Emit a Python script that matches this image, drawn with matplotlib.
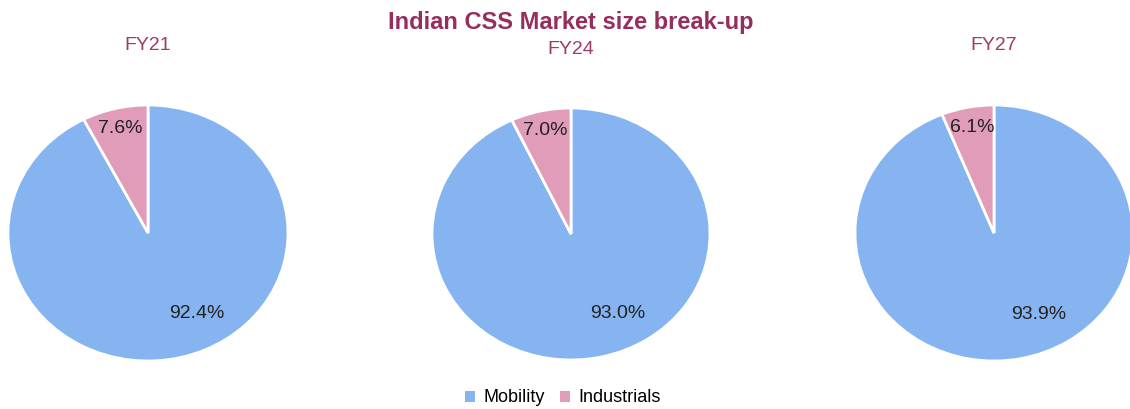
import numpy as np
import matplotlib.pyplot as plt
from matplotlib.patches import Patch

plt.rcParams['font.family'] = ['Liberation Sans', 'DejaVu Sans']

years = ['FY21', 'FY24', 'FY27']
segments = ['Mobility', 'Industrials']
mobility = [92.4, 93.0, 93.9]
industrials = [7.6, 7.0, 6.1]

colors = ['#85b4f1', '#e09cb9']
title_color = '#962d5c'

W, H = 1130, 409
fig = plt.figure(figsize=(W / 100, H / 100), dpi=100)

# pie boxes in pixels: center x, center y, radius x, radius y
boxes = [(148, 233, 140, 128), (571, 234, 139, 126), (994, 233, 139, 128)]
title_y = [45, 49, 45]

for i, year in enumerate(years):
    cx, cy, rx, ry = boxes[i]
    ax = fig.add_axes([(cx - rx) / W, 1 - (cy + ry) / H, 2 * rx / W, 2 * ry / H])
    vals = [mobility[i], industrials[i]]
    wedges, _ = ax.pie(vals, colors=colors, startangle=90, counterclock=False,
                       wedgeprops=dict(edgecolor='white', linewidth=2))
    ax.set_aspect('auto')
    ax.set_xlim(-1, 1)
    ax.set_ylim(-1, 1)
    # percentage labels
    start = 90
    dists = [0.645, 0.84]
    aligns = ['left', 'center']
    for v, d, ha in zip(vals, dists, aligns):
        mid = np.deg2rad(start - v * 3.6 / 2)
        ax.text(d * np.cos(mid), d * np.sin(mid), f'{v:.1f}%',
                ha=ha, va='center', fontsize=14, color='#222222')
        start -= v * 3.6
    fig.text(cx / W, 1 - title_y[i] / H, year, ha='center', va='center',
             fontsize=14, color='#a03a66')

fig.text(571 / W, 1 - 23 / H, 'Indian CSS Market size break-up', ha='center',
         va='center', fontsize=17, fontweight='bold', color=title_color)

handles = [Patch(facecolor=c, edgecolor='none') for c in colors]
fig.legend(handles, segments, loc='center', bbox_to_anchor=(563 / W, 1 - 398 / H),
           ncol=2, frameon=False, fontsize=13, handlelength=0.55, handleheight=0.55,
           handletextpad=0.5, columnspacing=0.8)

fig.savefig('out.png', dpi=100)
